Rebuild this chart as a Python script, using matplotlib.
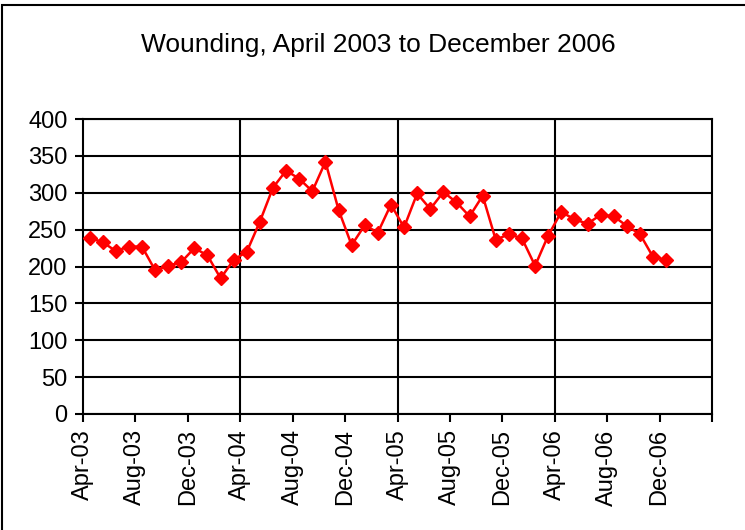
import matplotlib
matplotlib.use("Agg")
import matplotlib.pyplot as plt
from matplotlib.patches import Rectangle

# Monthly wounding counts, Apr 2003 - Dec 2006
months = []
for yr in ["03", "04", "05", "06"]:
    for m in ["Jan", "Feb", "Mar", "Apr", "May", "Jun", "Jul", "Aug", "Sep", "Oct", "Nov", "Dec"]:
        months.append(f"{m}-{yr}")
months = months[3:]  # start at Apr-03

values = [239, 233, 221, 227, 227, 195, 201, 206, 225, 215, 184, 209,
          220, 261, 307, 330, 319, 302, 342, 277, 229, 256, 246, 284,
          253, 299, 278, 301, 287, 268, 296, 236, 244, 238, 201, 242,
          274, 264, 258, 270, 268, 255, 244, 213, 209]

n_cats = 48  # axis runs to Apr-07
font = "Liberation Sans"

fig = plt.figure(figsize=(7.45, 5.3), dpi=100)
fig.patch.set_facecolor("white")

# outer chart border
fig.patches.append(Rectangle((2 / 745, -0.05), 1.2, 1 - 5 / 530 + 0.05,
                             transform=fig.transFigure, fill=False,
                             edgecolor="black", linewidth=1.5))

ax = fig.add_axes([83 / 745, (530 - 414) / 530, (712 - 83) / 745, (414 - 119) / 530])

x = [i + 0.5 for i in range(len(values))]
ax.plot(x, values, color="#FF0000", linewidth=1.8, marker="D",
        markersize=7.5, markeredgecolor="#FF0000", zorder=3, clip_on=False)

ax.set_xlim(0, n_cats)
ax.set_ylim(0, 400)
ax.set_yticks(range(0, 401, 50))
ax.yaxis.grid(True, color="black", linewidth=1.5)
for xv in (12, 24, 36):
    ax.axvline(xv, color="black", linewidth=1.5, zorder=1)

tick_pos = list(range(0, n_cats + 1, 4))
tick_labels = [months[i] if i < len(months) else "" for i in tick_pos]
ax.set_xticks(tick_pos)
ax.set_xticklabels(tick_labels, rotation=90, fontsize=17, fontfamily=font)
for lab in ax.get_yticklabels():
    lab.set_fontsize(17)
    lab.set_fontfamily(font)

ax.tick_params(axis="both", direction="out", length=6, width=1.5, colors="black")
ax.tick_params(axis="x", pad=5)
ax.tick_params(axis="y", pad=5)
for sp in ax.spines.values():
    sp.set_linewidth(1.5)
    sp.set_color("black")
ax.set_axisbelow(True)

fig.text(378 / 745, 1 - 45 / 530, "Wounding, April 2003 to December 2006",
         ha="center", va="center", fontsize=19, fontfamily=font)

fig.savefig("out.png", dpi=100, facecolor="white")
